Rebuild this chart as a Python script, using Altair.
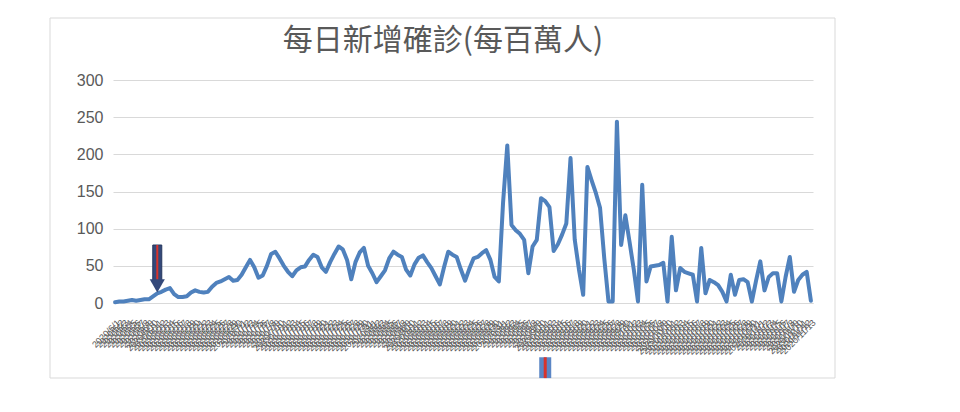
import altair as alt
import pandas as pd

title_text = "每日新增確診(每百萬人)"

# category labels (dates, one per day)
dates = pd.date_range("2020-06-01", periods=166, freq="D")
date_labels = [f"{d.year}/{d.month}/{d.day}" for d in dates]

# daily new confirmed cases per million
daily_cases = [
    1, 2, 2, 3, 4, 3, 4, 5, 5, 9,
    13, 15, 18, 20, 12, 8, 8, 9, 14, 17,
    15, 14, 15, 22, 27, 29, 32, 35, 30, 31,
    38, 48, 58, 48, 34, 37, 50, 66, 69, 60,
    50, 42, 36, 44, 48, 49, 58, 65, 62, 48,
    42, 55, 66, 76, 72, 58, 32, 55, 68, 74,
    50, 40, 28, 36, 44, 60, 69, 65, 62, 45,
    37, 52, 61, 64, 55, 47, 36, 25, 48, 69,
    65, 62, 45, 30, 46, 60, 62, 67, 71, 58,
    35, 29, 135, 212, 105, 98, 93, 85, 40, 76,
    85, 141, 137, 129, 70, 79, 92, 107, 195, 85,
    45, 11, 183, 165, 148, 128, 60, 2, 2, 244,
    78, 118, 82, 45, 2, 159, 29, 49, 50, 51,
    54, 2, 89, 17, 47, 42, 40, 38, 2, 74,
    13, 31, 28, 24, 15, 2, 38, 11, 31, 32,
    28, 2, 30, 56, 17, 35, 40, 40, 2, 35,
    62, 15, 31, 38, 42, 3,
]

y_ticks = [0, 50, 100, 150, 200, 250, 300]

# annotation markers
arrow_date = [date_labels[10]]
arrow_top, arrow_bottom, arrow_tip = [78], [30], [23]
marker_date = [date_labels[102]]
marker_top, marker_bottom = [-73], [-101]

df = pd.DataFrame({"date": date_labels, "cases": daily_cases})
arrow_df = pd.DataFrame({"date": arrow_date, "top": arrow_top, "bottom": arrow_bottom, "tip": arrow_tip})
marker_df = pd.DataFrame({"date": marker_date, "top": marker_top, "bottom": marker_bottom})
frame_df = pd.DataFrame({"k": [0]})

xscale = alt.Scale(type="point", domain=date_labels, padding=0.5)
yscale = alt.Scale(domain=[0, 300], nice=False, zero=False)

line = alt.Chart(df).mark_line(
    color="#4f81bd", strokeWidth=4, strokeJoin="round", strokeCap="round"
).encode(
    x=alt.X("date:O", scale=xscale, sort=None, title=None,
            axis=alt.Axis(labelAngle=-45, labelFontSize=9, labelColor="#595959",
                          labelOverlap=False, labelBound=False, ticks=False,
                          domain=True, domainColor="#d9d9d9", labelPadding=15,
                          labelFont="Liberation Sans")),
    y=alt.Y("cases:Q", scale=yscale, title=None,
            axis=alt.Axis(values=y_ticks, labelFontSize=16, labelColor="#595959",
                          labelFont="Liberation Sans", labelPadding=10,
                          labelOverlap=False, labelBound=False,
                          ticks=False, domain=False, grid=True,
                          gridColor="#d9d9d9", gridWidth=1)),
)

xa = alt.X("date:O", scale=xscale, axis=None)

shaft = alt.Chart(arrow_df).mark_bar(size=9, color="#34497a", stroke="#25375e", strokeWidth=1).encode(
    x=xa, y=alt.Y("top:Q", scale=yscale, axis=None), y2="bottom:Q",
)
head = alt.Chart(arrow_df).mark_point(shape="triangle-down", filled=True, size=230,
                                      color="#34497a", opacity=1).encode(
    x=xa, y=alt.Y("tip:Q", scale=yscale, axis=None),
)
red = alt.Chart(arrow_df).mark_rule(color="#d9332b", strokeWidth=2).encode(
    x=xa, y=alt.Y("top:Q", scale=yscale, axis=None), y2="tip:Q",
)

marker = alt.Chart(marker_df).mark_bar(size=12, color="#5b86c5").encode(
    x=xa, y=alt.Y("top:Q", scale=yscale, axis=None), y2="bottom:Q",
)
marker_red = alt.Chart(marker_df).mark_rule(color="#d9332b", strokeWidth=3).encode(
    x=xa, y=alt.Y("top:Q", scale=yscale, axis=None), y2="bottom:Q",
)

frame = alt.Chart(frame_df).mark_rect(fill=None, stroke="#d9d9d9", strokeWidth=1).encode(
    x=alt.value(-63), x2=alt.value(722), y=alt.value(-62), y2=alt.value(298)
)

chart = alt.layer(line, frame, shaft, red, head, marker, marker_red).resolve_axis(
    x="independent", y="independent"
).properties(
    width=700,
    height=223,
    title=alt.TitleParams(title_text, fontSize=30, font="Noto Sans CJK TC",
                          color="#595959", fontWeight="normal", anchor="middle",
                          offset=14, dy=52, dx=-20),
    autosize=alt.AutoSizeParams(type="none"),
    padding={"left": 105, "top": 72, "right": 131, "bottom": 100},
    background="white",
).configure_view(stroke=None)

chart.save("out.html", embed_options={"renderer": "svg", "actions": False})
